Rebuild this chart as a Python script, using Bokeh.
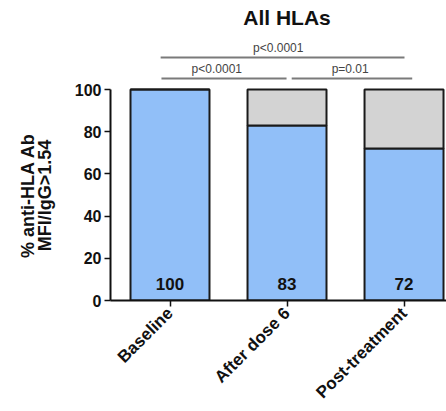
from bokeh.plotting import figure
from bokeh.layouts import row
from bokeh.models import Range1d, FixedTicker, ColumnDataSource
from bokeh.core.properties import value
from bokeh.embed import file_html
from bokeh.resources import INLINE
import math

# ---- data ----
categories = ["Baseline", "After dose 6", "Post-treatment"]
positive_pct = [100, 83, 72]
negative_pct = [0, 17, 28]
bar_labels = ["100", "83", "72"]
y_ticks = [0, 20, 40, 60, 80, 100]
title_text = "All HLAs"
y_label_lines = ["% anti-HLA Ab", "MFI/IgG>1.54"]
cmp_from = [0, 0, 1]
cmp_to = [2, 1, 2]
cmp_text = ["p<0.0001", "p<0.0001", "p=0.01"]

# ---- style ----
FONT = "Liberation Sans"
BLUE = "#91bff8"
GREY = "#d3d3d3"
BAR_W = 0.675
H = 411
FRAME_H = 300  # plot frame height (frames of the row are aligned)

xs = list(range(len(categories)))
totals = [a + b for a, b in zip(positive_pct, negative_pct)]

# ---- left strip carrying the two-line y-axis title (pixel coordinates, y up) ----
lab = figure(width=60, height=H, x_range=Range1d(0, 60), y_range=Range1d(0, FRAME_H),
             x_axis_type=None, y_axis_type=None,
             output_backend="svg", toolbar_location=None,
             min_border_left=0, min_border_right=0, min_border_top=0, min_border_bottom=0)
lab.outline_line_color = None
lab.xgrid.visible = False
lab.ygrid.visible = False
lab.text(x=[27, 44], y=[FRAME_H - 195, FRAME_H - 195], text=y_label_lines, angle=math.pi / 2,
         text_align="center", text_baseline="middle", text_font=value(FONT),
         text_font_size="18px", text_font_style="bold", text_color="#111111")

# ---- main chart ----
p = figure(width=446 - 60, height=H,
           x_range=Range1d(-0.5085, 2.363), y_range=Range1d(0, 142.2),
           output_backend="svg", toolbar_location=None,
           min_border_left=50, min_border_right=0,
           min_border_top=0, min_border_bottom=111)
p.outline_line_color = None
p.xgrid.visible = False
p.ygrid.visible = False
p.background_fill_color = "white"

src = ColumnDataSource(dict(x=xs, pos=positive_pct, tot=totals, lab=bar_labels))
p.vbar(x="x", width=BAR_W, bottom=0, top="pos", source=src,
       fill_color=BLUE, line_color="#1a1a1a", line_width=2)
p.vbar(x="x", width=BAR_W, bottom="pos", top="tot", source=src,
       fill_color=GREY, line_color="#1a1a1a", line_width=2)
p.text(x="x", y=8, text="lab", source=src, text_align="center",
       text_baseline="middle", text_font=value(FONT), text_font_size="17px",
       text_font_style="bold", text_color="#111111")

# comparison brackets
levels = []
for a, b in zip(cmp_from, cmp_to):
    levels.append(115.2 if (b - a) > 1 else 105.2)
x0s, x1s, tx = [], [], []
for a, b in zip(cmp_from, cmp_to):
    if b - a > 1:
        x0s.append(a - 0.08); x1s.append(b + 0.004)
        tx.append((a + b) / 2 - 0.075)
    elif a == 0:
        x0s.append(a - 0.073); x1s.append(b - 0.004)
        tx.append((a + b) / 2 - 0.1)
    else:
        x0s.append(a + 0.04); x1s.append(b + 0.07)
        tx.append((a + b) / 2 + 0.04)
p.segment(x0=x0s, y0=levels, x1=x1s, y1=levels, line_color="#7a7a7a", line_width=2)
p.text(x=tx, y=[l + 4.3 for l in levels], text=cmp_text, text_align="center",
       text_baseline="middle", text_font=value(FONT), text_font_size="12px",
       text_color="#444444")

# title
p.text(x=[(len(categories) - 1) / 2], y=[134.3], text=[title_text], text_align="center",
       text_baseline="middle", text_font=value(FONT), text_font_size="21px",
       text_font_style="bold", text_color="#111111")

# axes
for ax in (p.xaxis[0], p.yaxis[0]):
    ax.axis_line_width = 2
    ax.axis_line_color = "#111111"
    ax.major_tick_line_width = 1.5
    ax.major_tick_line_color = "#111111"
    ax.major_tick_out = 6
    ax.major_tick_in = 0
    ax.minor_tick_line_color = None
    ax.major_label_text_font = FONT
    ax.major_label_text_font_style = "bold"
    ax.major_label_text_color = "#111111"

p.yaxis.bounds = (0, 100)
p.yaxis.ticker = FixedTicker(ticks=y_ticks)
p.yaxis.major_label_text_font_size = "16px"
p.yaxis.major_label_standoff = 3

p.xaxis.ticker = FixedTicker(ticks=xs)
p.xaxis.major_label_overrides = {i: c for i, c in zip(xs, categories)}
p.xaxis.major_label_orientation = math.pi / 4
p.xaxis.major_label_text_font_size = "17px"
p.xaxis.major_label_standoff = 4

layout = row(lab, p, spacing=0)
open("out.html", "w").write(file_html(layout, INLINE))
